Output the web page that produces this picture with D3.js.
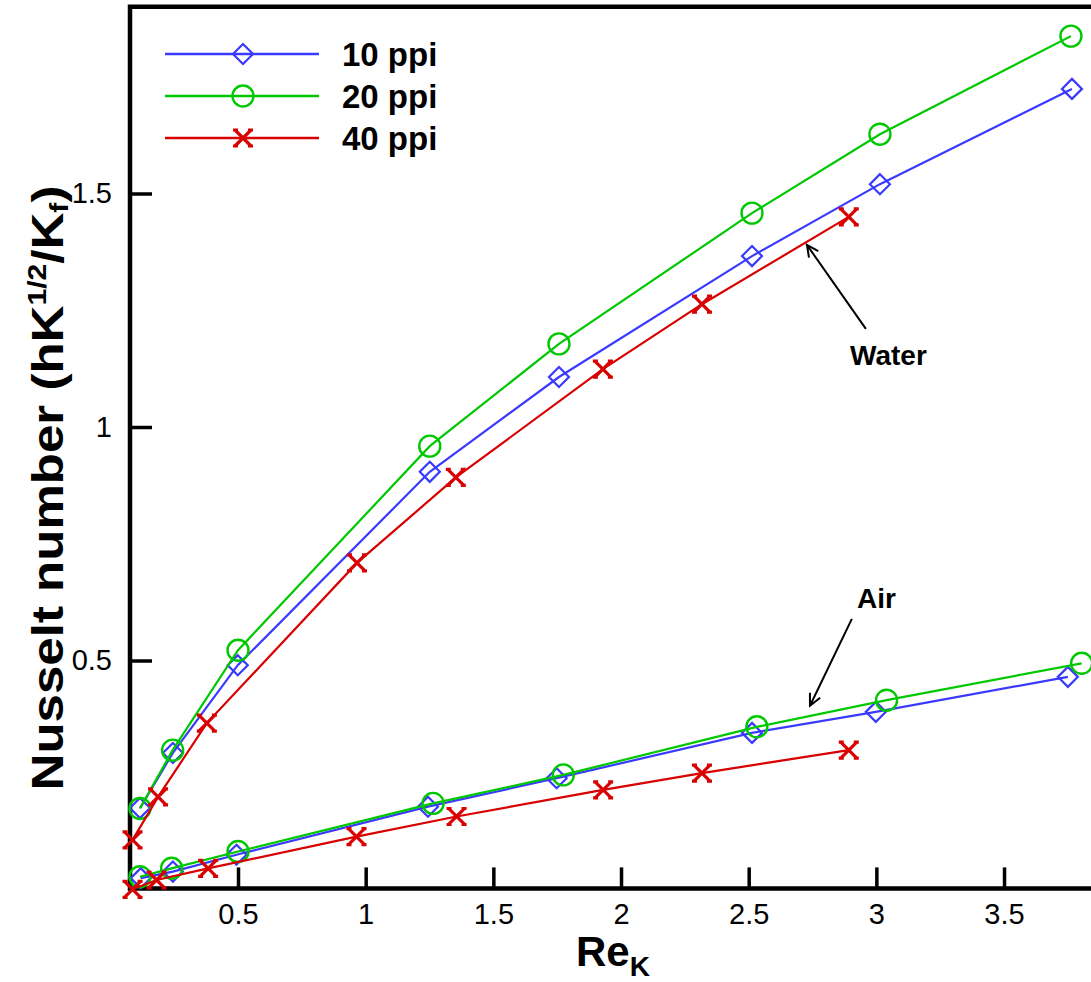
<!DOCTYPE html>
<html>
<head>
<meta charset="utf-8">
<script src="https://cdnjs.cloudflare.com/ajax/libs/d3/7.8.5/d3.min.js"></script>
<style>
  body { margin: 0; background: #fff; }
  svg { display: block; font-family: "Liberation Sans", Arial, sans-serif; }
</style>
</head>
<body>
<svg id="chart" width="1091" height="982"></svg>
<script>
// Re_K values and Nusselt numbers
// water
var water10x = [0.116, 0.245, 0.499, 1.251, 1.757, 2.513, 3.014, 3.766];
var water10y = [0.184, 0.302, 0.490, 0.904, 1.107, 1.366, 1.520, 1.724];
var water20x = [0.116, 0.244, 0.500, 1.251, 1.757, 2.513, 3.014, 3.762];
var water20y = [0.183, 0.308, 0.522, 0.959, 1.178, 1.458, 1.627, 1.837];
var water40x = [0.087, 0.187, 0.378, 0.966, 1.353, 1.929, 2.317, 2.892];
var water40y = [0.116, 0.208, 0.366, 0.709, 0.892, 1.124, 1.263, 1.450];
// air
var air10x = [0.119, 0.245, 0.494, 1.244, 1.748, 2.513, 2.998, 3.750];
var air10y = [0.034, 0.048, 0.084, 0.187, 0.248, 0.345, 0.390, 0.465];
var air20x = [0.116, 0.240, 0.500, 1.264, 1.774, 2.532, 3.040, 3.804];
var air20y = [0.037, 0.055, 0.091, 0.194, 0.255, 0.358, 0.415, 0.494];
var air40x = [0.087, 0.181, 0.383, 0.964, 1.356, 1.930, 2.317, 2.892];
var air40y = [0.010, 0.030, 0.055, 0.123, 0.166, 0.223, 0.259, 0.308];

var seriesNames = ["10 ppi", "20 ppi", "40 ppi"];
var seriesColors = ["#3a3aff", "#00c800", "#d80000"];
var seriesMarkers = ["diamond", "circle", "cross"];

var xTicks = [0.5, 1, 1.5, 2, 2.5, 3, 3.5];
var xTickLabels = ["0.5", "1", "1.5", "2", "2.5", "3", "3.5"];
var yTicks = [0.5, 1, 1.5];
var yTickLabels = ["0.5", "1", "1.5"];

var svg = d3.select("#chart");

var x = d3.scaleLinear().domain([0.077, 3.85]).range([130, 1093.4]);
var y = d3.scaleLinear().domain([0.012, 1.9]).range([888.4, 6.7]);

// minor ticks every 0.1
var xMinor = d3.range(1, 39).map(function(i) { return i / 10; })
  .filter(function(v) { return v > 0.077 && xTicks.indexOf(v) < 0; });
var yMinor = d3.range(1, 19).map(function(i) { return i / 10; })
  .filter(function(v) { return yTicks.indexOf(v) < 0; });

// x axis
var gx = svg.append("g").attr("transform", "translate(0," + y.range()[0] + ")");
gx.call(d3.axisBottom(x).tickValues(xMinor).tickSize(-11).tickSizeOuter(0).tickFormat(""));
gx.call(d3.axisBottom(x).tickValues(xTicks).tickSize(-21).tickSizeOuter(0).tickPadding(15)
  .tickFormat(function(d, i) { return xTickLabels[i]; }));
gx.selectAll(".domain").remove();

// y axis
var gy = svg.append("g").attr("transform", "translate(" + x.range()[0] + ",0)");
gy.call(d3.axisLeft(y).tickValues(yMinor).tickSize(-11).tickSizeOuter(0).tickFormat(""));
gy.call(d3.axisLeft(y).tickValues(yTicks).tickSize(-22).tickSizeOuter(0).tickPadding(18)
  .tickFormat(function(d, i) { return yTickLabels[i]; }));
gy.selectAll(".domain").remove();

svg.selectAll(".tick line").attr("stroke", "#000").attr("stroke-width", 2);
gx.selectAll(".tick").filter(function(d) { return xTicks.indexOf(d) >= 0; })
  .select("line").attr("stroke-width", 3.5);
gy.selectAll(".tick").filter(function(d) { return yTicks.indexOf(d) >= 0; })
  .select("line").attr("stroke-width", 3.5);
svg.selectAll(".tick text").attr("font-size", 29).attr("fill", "#000")
  .attr("font-family", "Liberation Sans, Arial, sans-serif");

// frame (right side is cut off in the original)
var frame = svg.append("g").attr("stroke", "#000").attr("stroke-width", 4.5).attr("fill", "none");
frame.append("path").attr("d",
  "M" + x.range()[1] + "," + y.range()[1] + "H" + x.range()[0] + "V" + y.range()[0] + "H" + x.range()[1]);

// markers
function drawMarker(g, type, color, cx, cy) {
  if (type == "diamond") {
    g.append("path").attr("d", "M" + cx + "," + (cy - 10) + "L" + (cx + 10) + "," + cy + "L" + cx + "," + (cy + 10) + "L" + (cx - 10) + "," + cy + "Z")
      .attr("fill", "none").attr("stroke", color).attr("stroke-width", 2.2);
  } else if (type == "circle") {
    g.append("circle").attr("cx", cx).attr("cy", cy).attr("r", 10.5)
      .attr("fill", "none").attr("stroke", color).attr("stroke-width", 2.4);
  } else {
    var s = 8;
    g.append("path").attr("d", "M" + (cx - s) + "," + (cy - s) + "L" + (cx + s) + "," + (cy + s) +
        "M" + (cx - s) + "," + (cy + s) + "L" + (cx + s) + "," + (cy - s) +
        "M" + (cx - s - 2) + "," + (cy - s) + "H" + (cx - s + 3) +
        "M" + (cx + s - 3) + "," + (cy - s) + "H" + (cx + s + 2) +
        "M" + (cx - s - 2) + "," + (cy + s) + "H" + (cx - s + 3) +
        "M" + (cx + s - 3) + "," + (cy + s) + "H" + (cx + s + 2))
      .attr("fill", "none").attr("stroke", color).attr("stroke-width", 3.2);
  }
}

var line = d3.line().x(function(d) { return x(d[0]); }).y(function(d) { return y(d[1]); });

var allSeries = [
  [water10x, water10y, 0], [air10x, air10y, 0],
  [water20x, water20y, 1], [air20x, air20y, 1],
  [water40x, water40y, 2], [air40x, air40y, 2]
];

var plot = svg.append("g");
allSeries.forEach(function(s) {
  var pts = d3.zip(s[0], s[1]);
  var k = s[2];
  plot.append("path").datum(pts).attr("d", line)
    .attr("fill", "none").attr("stroke", seriesColors[k]).attr("stroke-width", 2.2);
  pts.forEach(function(p) {
    drawMarker(plot, seriesMarkers[k], seriesColors[k], x(p[0]), y(p[1]));
  });
});

// legend
var legendY = [54, 96, 138];
var legend = svg.append("g");
seriesNames.forEach(function(name, i) {
  legend.append("line").attr("x1", 165).attr("x2", 319).attr("y1", legendY[i]).attr("y2", legendY[i])
    .attr("stroke", seriesColors[i]).attr("stroke-width", 2.5);
  drawMarker(legend, seriesMarkers[i], seriesColors[i], 243, legendY[i]);
  legend.append("text").attr("x", 342).attr("y", legendY[i] + 12)
    .attr("font-size", 33).attr("font-weight", "bold").text(name);
});

// annotations (positions in data units)
function arrow(fromX, fromY, toX, toY) {
  var x1 = x(fromX), y1 = y(fromY), x2 = x(toX), y2 = y(toY);
  var a = Math.atan2(y2 - y1, x2 - x1), L = 13, w = 0.45;
  svg.append("path")
    .attr("d", "M" + x1 + "," + y1 + "L" + x2 + "," + y2 +
      "M" + (x2 - L * Math.cos(a - w)) + "," + (y2 - L * Math.sin(a - w)) + "L" + x2 + "," + y2 +
      "L" + (x2 - L * Math.cos(a + w)) + "," + (y2 - L * Math.sin(a + w)))
    .attr("fill", "none").attr("stroke", "#000").attr("stroke-width", 2);
}
svg.append("text").attr("x", x(2.897)).attr("y", y(1.133)).attr("font-size", 28)
  .attr("font-weight", "bold").text("Water");
arrow(2.959, 1.21, 2.728, 1.39);
svg.append("text").attr("x", x(2.924)).attr("y", y(0.612)).attr("font-size", 28)
  .attr("font-weight", "bold").text("Air");
arrow(2.904, 0.589, 2.74, 0.403);

// axis titles
var xt = svg.append("text").attr("x", 576).attr("y", 966).attr("font-size", 42).attr("font-weight", "bold");
xt.append("tspan").text("Re");
xt.append("tspan").attr("font-size", 28).attr("dy", 10).text("K");

// the original title font is a bit wider than Liberation Sans, so stretch it along its length
var yt = svg.append("text").attr("transform", "translate(63,488) rotate(-90) scale(1.16,1)")
  .attr("text-anchor", "middle").attr("font-size", 44).attr("font-weight", "bold");
yt.append("tspan").text("Nusselt number (hK");
yt.append("tspan").attr("font-size", 26).attr("dy", -17).text("1/2");
yt.append("tspan").attr("dy", 17).text("/K");
yt.append("tspan").attr("font-size", 26).attr("dy", 5).text("f");
yt.append("tspan").attr("dy", -5).text(")");
</script>
</body>
</html>
